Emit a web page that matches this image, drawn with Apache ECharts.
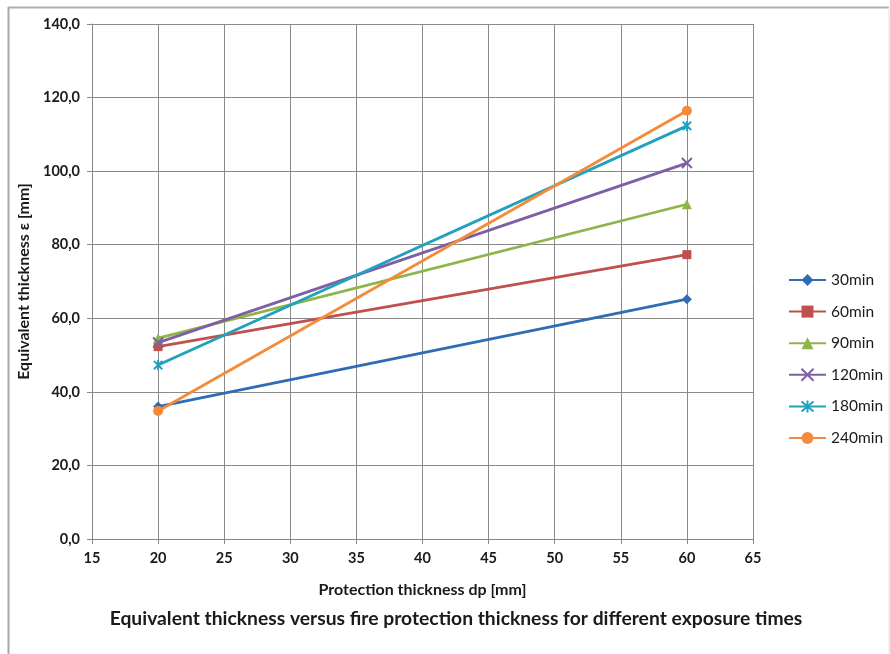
<!DOCTYPE html>
<html>
<head>
<meta charset="utf-8">
<script src="https://cdn.jsdelivr.net/npm/echarts@6/dist/echarts.min.js"></script>
<style>html,body{margin:0;padding:0;background:#fff;}#chart{width:890px;height:654px;}</style>
</head>
<body>
<div id="chart"></div>
<script>
const xValues = [20, 60];
const seriesNames = ['30min', '60min', '90min', '120min', '180min', '240min'];
const s30 = [36.0, 65.2];
const s60 = [52.3, 77.3];
const s90 = [54.6, 91.0];
const s120 = [53.4, 102.2];
const s180 = [47.3, 112.3];
const s240 = [34.8, 116.4];
const seriesData = [s30, s60, s90, s120, s180, s240];
const colors = ['#2E6DB4', '#C0504D', '#8CB54A', '#7E5FA3', '#22A0BD', '#F38B3A'];
const xMin = 15, xMax = 65, xStep = 5;
const yMin = 0, yMax = 140, yStep = 20;

const xPath = 'path://M0,0L10,10M10,0L0,10';
const starPath = 'path://M0,0L10,10M10,0L0,10M5,-1L5,11';
const symbols = ['diamond', 'rect', 'triangle', xPath, starPath, 'circle'];
const sizes = [10, 9, 10, 10, 10, 10];

const chart = echarts.init(document.getElementById('chart'));
const font = 'Lato, "Open Sans", sans-serif';

const series = seriesNames.map((name, i) => {
  const isLineSym = i === 3 || i === 4;
  return {
    name: name,
    type: 'line',
    data: xValues.map((x, j) => [x, seriesData[i][j]]),
    symbol: symbols[i],
    symbolSize: sizes[i],
    symbolKeepAspect: true,
    lineStyle: { color: colors[i], width: 2.8 },
    itemStyle: isLineSym
      ? { color: colors[i], borderColor: colors[i], borderWidth: 2 }
      : { color: colors[i], borderWidth: 0 },
    emphasis: { disabled: true },
    z: 2 + i
  };
});

chart.setOption({
  animation: false,
  backgroundColor: '#fff',
  textStyle: { fontFamily: font },
  title: {
    text: 'Equivalent thickness versus fire protection thickness for different exposure times',
    left: 451,
    textAlign: 'center',
    top: 604,
    textStyle: { fontFamily: font, fontSize: 19.3, fontWeight: 'bold', color: '#1a1a1a' }
  },
  grid: { left: 92, right: 137, top: 24, bottom: 115, containLabel: false },
  legend: {
    orient: 'vertical',
    left: 783,
    top: 267,
    itemGap: 15.6,
    itemWidth: 37,
    itemHeight: 15,
    data: seriesNames,
    textStyle: { fontFamily: font, fontSize: 15.5, lineHeight: 16, color: '#1a1a1a' }
  },
  xAxis: {
    type: 'value',
    min: xMin, max: xMax, interval: xStep,
    name: 'Protection thickness dp [mm]',
    nameLocation: 'middle',
    nameGap: 43,
    nameTextStyle: { fontFamily: font, fontSize: 16, fontWeight: 'bold', color: '#1a1a1a' },
    axisLine: { show: true, lineStyle: { color: '#868686', width: 1 } },
    axisTick: { show: true, length: 5, lineStyle: { color: '#868686' } },
    axisLabel: { fontFamily: font, fontSize: 14.5, fontWeight: 'bold', color: '#1a1a1a', margin: 12 },
    splitLine: { show: true, lineStyle: { color: '#8a8a8a', width: 1 } }
  },
  yAxis: {
    type: 'value',
    min: yMin, max: yMax, interval: yStep,
    name: 'Equivalent thickness ε [mm]',
    nameLocation: 'middle',
    nameGap: 59,
    nameTextStyle: { fontFamily: font, fontSize: 16, fontWeight: 'bold', color: '#1a1a1a' },
    axisLine: { show: true, lineStyle: { color: '#868686', width: 1 } },
    axisTick: { show: true, length: 5, lineStyle: { color: '#868686' } },
    axisLabel: {
      fontFamily: font, fontSize: 14.5, fontWeight: 'bold', color: '#1a1a1a', margin: 12,
      formatter: v => v.toFixed(1).replace('.', ',')
    },
    splitLine: { show: true, lineStyle: { color: '#8a8a8a', width: 1 } }
  },
  graphic: [
    { type: 'line', shape: { x1: 8, y1: 7.5, x2: 889, y2: 7.5 }, style: { stroke: '#b0b0b0', lineWidth: 2 }, silent: true },
    { type: 'line', shape: { x1: 8.5, y1: 7, x2: 8.5, y2: 654 }, style: { stroke: '#a8a8a8', lineWidth: 2 }, silent: true },
    { type: 'line', shape: { x1: 889, y1: 7, x2: 889, y2: 654 }, style: { stroke: '#e4e4e4', lineWidth: 1 }, silent: true }
  ],
  series: series
});
</script>
</body>
</html>
